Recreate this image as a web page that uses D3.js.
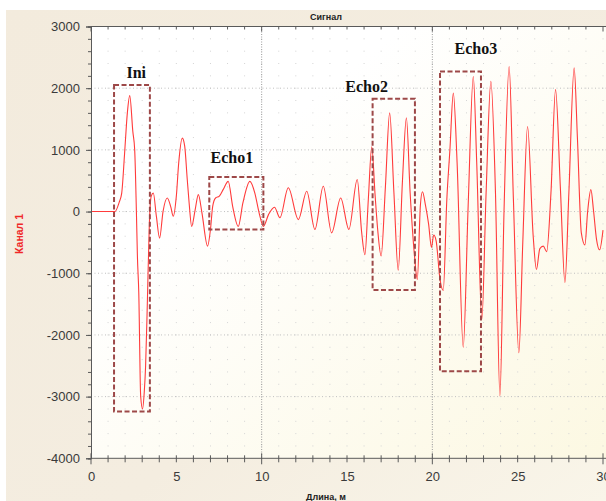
<!DOCTYPE html>
<html>
<head>
<meta charset="utf-8">
<script src="https://cdn.jsdelivr.net/npm/d3@7/dist/d3.min.js"></script>
<style>
  html, body { margin: 0; padding: 0; background: #fff; }
  svg { display: block; }
</style>
</head>
<body>
<svg id="chart" width="606" height="501"></svg>
<script>
// Signal trace: distance along the line (m) and channel 1 amplitude
const distance = [
  0, 1.4, 1.65, 1.8, 1.97, 2.13, 2.27, 2.45, 2.56, 2.66, 2.72, 2.8, 2.91, 3.02,
  3.12, 3.2, 3.3, 3.42, 3.53, 3.65, 3.83, 4.02, 4.22, 4.47, 4.67, 4.82, 5.0, 5.14,
  5.35, 5.49, 5.64, 5.75, 5.9, 6.1, 6.29, 6.5, 6.83, 7.0, 7.13, 7.3, 7.52, 7.75,
  8.04, 8.3, 8.63, 8.9, 9.31, 9.6, 9.85, 10.1, 10.4, 10.75, 11.07, 11.56, 12.15,
  12.64, 13.12, 13.61, 14.1, 14.63, 15.11, 15.6, 15.86, 16.05, 16.25, 16.45,
  16.65, 16.8, 17.0, 17.25, 17.5, 17.75, 18.0, 18.25, 18.48, 18.7, 18.95, 19.12,
  19.3, 19.42, 19.6, 19.78, 19.95, 20.08, 20.22, 20.45, 20.64, 20.85, 21.03,
  21.23, 21.45, 21.81, 22.1, 22.4, 22.6, 22.9, 23.15, 23.43, 23.7, 23.96, 24.2,
  24.5, 24.75, 25.07, 25.3, 25.58, 25.91, 26.1, 26.3, 26.5, 26.7, 26.95, 27.22,
  27.5, 27.77, 28.0, 28.31, 28.5, 28.73, 28.94, 29.1, 29.29, 29.45, 29.62, 29.8,
  30.0
];
const amplitude = [
  0, 0, 150, 300, 950, 1600, 1880, 1300, 1000, 0, -730, -1320, -2990, -3200,
  -2930, -2500, -1500, -185, 250, 300, -75, -430, 0, 220, 80, -75, 250, 790,
  1190, 1060, 520, 140, -240, 25, 275, -20, -560, -290, 85, 220, 250, 360,
  490, 85, -240, 140, 490, 300, -20, -240, -50, 70, -100, 385, -130,
  330, -290, 410, -345, 220, -290, 520, -340, -700, 200, 1050,
  250, -300, -720, 400, 1600, 300, -950, 500, 1520, 300, -700, -1100,
  100, 320, 100, -200, -580, -380, -470, -1100, -1280, 200, 1000,
  1920, 800, -2200, 100, 2190, 800, -1750, 300, 2110, 300, -2990, 0,
  2350, 200, -2290, -500, 1380, -400, -940, -600, -560, -650, 300, 1980,
  400, -1150, 300, 2330, 1200, -345, -540, 0, 355, 0, -450, -620,
  -300
];

// Highlighted zones: name, extent along x and amplitude, label anchor
const zoneNames  = ["Ini", "Echo1", "Echo2", "Echo3"];
const zoneStart  = [1.35, 6.93, 16.5, 20.45];
const zoneEnd    = [3.45, 10.1, 18.98, 22.85];
const zoneTop    = [2050, 560, 1830, 2270];
const zoneBottom = [-3240, -290, -1270, -2590];
const zoneLabelX = [2.65, 8.25, 16.15, 22.55];
const zoneLabelY = [2260, 880, 2020, 2650];

// Axis ticks
const xTickLabels = [0, 5, 10, 15, 20, 25, 30];
const yTickLabels = [3000, 2000, 1000, 0, -1000, -2000, -3000, -4000];
const xMinor = d3.range(0, 31, 1);
const yMinor = d3.range(-4000, 3001, 200);

const W = 606, H = 501;
const plotL = 91, plotR = 603, plotT = 26.5, plotB = 458.3;

const svg = d3.select("#chart");
const defs = svg.append("defs");

const panelGrad = defs.append("linearGradient").attr("id", "panelGrad")
  .attr("x1", "0").attr("y1", "0").attr("x2", "1").attr("y2", "1");
panelGrad.append("stop").attr("offset", "0").attr("stop-color", "#f3ebdd");
panelGrad.append("stop").attr("offset", "0.6").attr("stop-color", "#f4ede0");
panelGrad.append("stop").attr("offset", "1").attr("stop-color", "#f9f5e9");

const plotGrad = defs.append("linearGradient").attr("id", "plotGrad")
  .attr("x1", "0.3").attr("y1", "0.3").attr("x2", "1").attr("y2", "1");
plotGrad.append("stop").attr("offset", "0").attr("stop-color", "#ffffff");
plotGrad.append("stop").attr("offset", "1").attr("stop-color", "#fcf8e2");

// Outer panel
svg.append("rect").attr("x", 6).attr("y", 10).attr("width", W - 6).attr("height", H - 10)
  .attr("fill", "url(#panelGrad)");

const x = d3.scaleLinear().domain([0, 30]).range([plotL, plotR]);
const y = d3.scaleLinear().domain([-4000, 3000]).range([plotB, plotT]);

// Plot background
svg.append("rect").attr("x", plotL).attr("y", plotT)
  .attr("width", W - plotL).attr("height", plotB - plotT)
  .attr("fill", "url(#plotGrad)");

// Faint lattice of minor grid dots
const lattice = svg.append("g").attr("fill", "#d4d4d4");
xMinor.slice(1).forEach(xv => {
  yMinor.slice(1, -1).forEach(yv => {
    lattice.append("rect").attr("x", x(xv) - 0.5).attr("y", y(yv) - 0.5)
      .attr("width", 1).attr("height", 1);
  });
});

// Major grid: dotted lines
const grid = svg.append("g");
grid.selectAll("line.h").data(yTickLabels.slice(1, -1)).join("line")
  .attr("x1", plotL).attr("x2", W).attr("y1", d => y(d)).attr("y2", d => y(d))
  .attr("stroke", "#c0c0c0").attr("stroke-width", 1).attr("stroke-dasharray", "1,2.5");
grid.selectAll("line.v").data([10, 20]).join("line")
  .attr("x1", d => x(d)).attr("x2", d => x(d)).attr("y1", plotT).attr("y2", plotB)
  .attr("stroke", "#9a9a9a").attr("stroke-width", 1).attr("stroke-dasharray", "1,1.5");

// Signal trace
const line = d3.line()
  .x((d, i) => x(distance[i]))
  .y(d => y(d))
  .curve(d3.curveMonotoneX);
svg.append("path").datum(amplitude)
  .attr("d", line)
  .attr("fill", "none")
  .attr("stroke", "#ff3b3b")
  .attr("stroke-width", 1.1)
  .attr("stroke-linejoin", "round");

// Zone boxes
const zones = svg.append("g");
zoneNames.forEach((name, i) => {
  zones.append("rect")
    .attr("x", x(zoneStart[i])).attr("y", y(zoneTop[i]))
    .attr("width", x(zoneEnd[i]) - x(zoneStart[i]))
    .attr("height", y(zoneBottom[i]) - y(zoneTop[i]))
    .attr("fill", "none").attr("stroke", "#9d4848").attr("stroke-width", 2)
    .attr("stroke-dasharray", "5,2.5");
  zones.append("text")
    .attr("x", x(zoneLabelX[i])).attr("y", y(zoneLabelY[i]))
    .attr("text-anchor", "middle").attr("dominant-baseline", "central")
    .attr("font-family", "'Liberation Serif', 'Times New Roman', serif")
    .attr("font-weight", "bold").attr("font-size", 16).attr("fill", "#111")
    .text(name);
});

// Frame lines
const axisColor = "#5a5a5a";
svg.append("line").attr("x1", plotL).attr("x2", W).attr("y1", plotT).attr("y2", plotT)
  .attr("stroke", axisColor);

// Top minor ticks
svg.append("g").selectAll("line").data(xMinor).join("line")
  .attr("x1", d => x(d)).attr("x2", d => x(d))
  .attr("y1", plotT).attr("y2", d => plotT + (d % 10 === 0 ? 5 : 3))
  .attr("stroke", axisColor);

// Tick labels use a plain hyphen for negatives
const plainInt = d => String(d);

// Left axis: minor then labelled major ticks
const yMinorAxis = svg.append("g").attr("transform", `translate(${plotL},0)`)
  .call(d3.axisLeft(y).tickValues(yMinor).tickSize(3).tickFormat(""));
const yAxis = svg.append("g").attr("transform", `translate(${plotL},0)`)
  .call(d3.axisLeft(y).tickValues(yTickLabels).tickSize(5).tickPadding(6)
    .tickFormat(plainInt));
[yMinorAxis, yAxis].forEach(g => {
  g.select(".domain").attr("stroke", axisColor);
  g.selectAll(".tick line").attr("stroke", axisColor);
});
yAxis.selectAll(".tick text")
  .attr("font-family", "'Liberation Sans', Arial, sans-serif")
  .attr("font-size", 13).attr("fill", "#3a3a3a");

// Bottom axis: ticks cross the line, labels every 5 m
const xAxis = svg.append("g").attr("transform", `translate(0,${plotB})`)
  .call(d3.axisBottom(x).tickValues(xTickLabels).tickSize(0).tickPadding(13)
    .tickFormat(plainInt));
xAxis.select(".domain").attr("stroke", axisColor).attr("d", `M${plotL},0H${W}`);
xAxis.selectAll(".tick text")
  .attr("font-family", "'Liberation Sans', Arial, sans-serif")
  .attr("font-size", 13).attr("fill", "#3a3a3a");
svg.append("g").selectAll("line").data(xMinor).join("line")
  .attr("x1", d => x(d)).attr("x2", d => x(d))
  .attr("y1", d => plotB - (d % 10 === 0 ? 5 : 3))
  .attr("y2", d => plotB + (d % 10 === 0 ? 6 : 4))
  .attr("stroke", axisColor);

// Titles
svg.append("text").attr("x", 326).attr("y", 17)
  .attr("text-anchor", "middle").attr("dominant-baseline", "central")
  .attr("font-family", "'Liberation Sans', Arial, sans-serif")
  .attr("font-weight", "bold").attr("font-size", 9).attr("fill", "#222")
  .text("Сигнал");
svg.append("text").attr("x", 326).attr("y", 497)
  .attr("text-anchor", "middle").attr("dominant-baseline", "central")
  .attr("font-family", "'Liberation Sans', Arial, sans-serif")
  .attr("font-weight", "bold").attr("font-size", 9).attr("fill", "#222")
  .text("Длина, м");
svg.append("text")
  .attr("transform", "translate(19,234) rotate(-90)")
  .attr("text-anchor", "middle").attr("dominant-baseline", "central")
  .attr("font-family", "'Liberation Sans', Arial, sans-serif")
  .attr("font-weight", "bold").attr("font-size", 10.5).attr("fill", "#f02828")
  .text("Канал 1");
</script>
</body>
</html>
